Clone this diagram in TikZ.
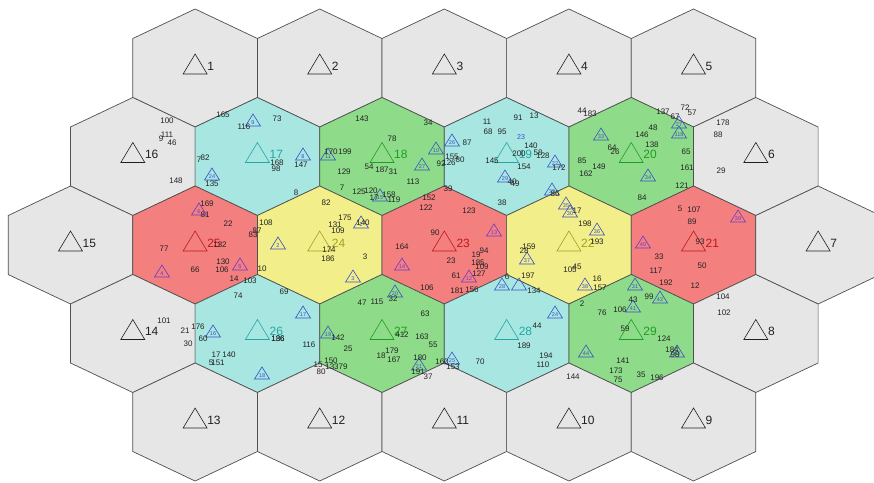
\documentclass[tikz,border=0pt]{standalone}
\usepackage{fontspec}
\setmainfont{Liberation Sans}
\usetikzlibrary{calc}
\definecolor{hgray}{HTML}{E6E6E6}
\definecolor{hcyan}{HTML}{A8E6E1}
\definecolor{hgreen}{HTML}{8EDC8A}
\definecolor{hred}{HTML}{F47F7F}
\definecolor{hyellow}{HTML}{F2EE8A}
\definecolor{hexline}{HTML}{505050}
\definecolor{tblack}{HTML}{202020}
\definecolor{tteal}{HTML}{20A8A4}
\definecolor{tgreen}{HTML}{1E9E1E}
\definecolor{tred}{HTML}{C01818}
\definecolor{tolive}{HTML}{A4A020}
\definecolor{ntext}{HTML}{222222}
\definecolor{bsta}{HTML}{3A50C8}
\definecolor{psta}{HTML}{6A3AC8}
\tikzset{
  hexcell/.style={draw=hexline, line width=0.7pt, line join=miter},
  bigtri/.style={line width=0.6pt},
  biglab/.style={font=\fontsize{12}{12}\selectfont, anchor=west, inner sep=0pt},
  sn/.style={font=\fontsize{8}{8}\selectfont, text=ntext, inner sep=0pt},
  stri/.style={line width=0.6pt},
  stl/.style={font=\fontsize{5.5}{5.5}\selectfont, inner sep=0pt},
}
\newcommand{\hexc}[4]{%
  \coordinate (#1) at (#2,#3);
  \draw[hexcell, fill=#4] (#1) ++(0,-59) -- ++(62.3,29.5) -- ++(0,59) -- ++(-62.3,29.5) -- ++(-62.3,-29.5) -- ++(0,-59) -- cycle;
}
\newcommand{\hexmark}[3]{%
  \draw[bigtri, draw=#2] (#1) ++(0,-14) -- ++(12,20) -- ++(-24,0) -- cycle;
  \node[biglab, text=#2] (#1l) at ($(#1)+(12,-2)$) {#3};
}
\begin{document}
\begin{tikzpicture}[x=1pt,y=-1pt]
\useasboundingbox (0,0) rectangle (874,482);
\fill[white] (0,0) rectangle (874,482);
\clip (0,0) rectangle (874,482);
% row 0
\hexc{h1}{195.1}{68}{hgray}
\hexc{h2}{319.7}{68}{hgray}
\hexc{h3}{444.3}{68}{hgray}
\hexc{h4}{568.9}{68}{hgray}
\hexc{h5}{693.5}{68}{hgray}
% row 1
\hexc{h16}{132.8}{156.5}{hgray}
\hexc{h17}{257.4}{156.5}{hcyan}
\hexc{h18}{382.0}{156.5}{hgreen}
\hexc{h19}{506.6}{156.5}{hcyan}
\hexc{h20}{631.2}{156.5}{hgreen}
\hexc{h6}{755.8}{156.5}{hgray}
% row 2
\hexc{h15}{70.5}{245}{hgray}
\hexc{h25}{195.1}{245}{hred}
\hexc{h24}{319.7}{245}{hyellow}
\hexc{h23}{444.3}{245}{hred}
\hexc{h22}{568.9}{245}{hyellow}
\hexc{h21}{693.5}{245}{hred}
\hexc{h7}{818.1}{245}{hgray}
% row 3
\hexc{h14}{132.8}{333.5}{hgray}
\hexc{h26}{257.4}{333.5}{hcyan}
\hexc{h27}{382.0}{333.5}{hgreen}
\hexc{h28}{506.6}{333.5}{hcyan}
\hexc{h29}{631.2}{333.5}{hgreen}
\hexc{h8}{755.8}{333.5}{hgray}
% row 4
\hexc{h13}{195.1}{422}{hgray}
\hexc{h12}{319.7}{422}{hgray}
\hexc{h11}{444.3}{422}{hgray}
\hexc{h10}{568.9}{422}{hgray}
\hexc{h9}{693.5}{422}{hgray}
% big markers
\foreach \n in {1,2,3,4,5,6,7,8,9,10,11,12,13,14,15,16} {\hexmark{h\n}{tblack}{\n}}
\foreach \n in {17,19,26,28} {\hexmark{h\n}{tteal}{\n}}
\foreach \n in {18,20,27,29} {\hexmark{h\n}{tgreen}{\n}}
\foreach \n in {21,23,25} {\hexmark{h\n}{tred}{\n}}
\foreach \n in {22,24} {\hexmark{h\n}{tolive}{\n}}
% small blue stations
\foreach \x/\y/\t [count=\i] in {253/121/9, 212/175/24, 303/155/8, 328/155/11, 436/149/10,
  422/165/27, 452/141/26, 380/196/15, 505/177/29, 555/162/22, 552/190/32, 566/204/35,
  570/212/30, 601/135/33, 648/176/34, 679/123/27, 679/133/118, 278/244/2, 361/223/1,
  353/277/3, 527/259/37, 597/230/36, 585/285/38, 502/285/28, 519/285/{}, 635/285/31,
  633/307/41, 660/298/42, 586/352/44, 213/332/16, 303/313/17, 262/374/18, 328/333/19,
  395/292/20, 419/365/21, 452/359/25, 555/313/24, 677/352/43} {
  \draw[stri, draw=bsta] (\x,\y) ++(0,-7) -- ++(7.5,12) -- ++(-15,0) -- cycle;
  \node[stl, text=bsta] (s\i) at (\x,\y+1.5) {\t};
}
\foreach \x/\y/\t [count=\i] in {199/210/6, 162/272/4, 240/265/5, 402/265/14, 494/231/13,
  469/277/12, 738/217/39, 643/243/40} {
  \draw[stri, draw=psta] (\x,\y) ++(0,-7) -- ++(7.5,12) -- ++(-15,0) -- cycle;
  \node[stl, text=psta] (p\i) at (\x,\y+1.5) {\t};
}
\node[stl, text=bsta, font=\fontsize{7}{7}\selectfont] (s23) at (521,137) {23};
% small numbers
\foreach \x/\y/\t [count=\i] in {
  167/121/100, 167/135/111, 161/139/9, 172/143/46, 176/181/148,
  223/115/165, 244/127/116, 277/119/73, 277/163/168, 276/169/98, 199/160/7, 205/158/82,
  212/184/135, 296/193/8,
  362/119/143, 428/123/34, 392/139/78, 331/152/170, 345/152/199, 301/165/147, 344/172/129,
  369/167/54, 382/170/187, 393/172/31, 413/182/113, 342/188/7, 359/192/125, 371/191/120,
  374/198/17, 389/195/158, 394/200/119, 441/164/92, 452/157/155, 449/163/126, 460/160/80,
  467/143/87, 448/189/39,
  487/122/11, 488/132/68, 502/132/95, 518/118/91, 534/116/13, 531/146/140, 538/153/58,
  543/156/128, 519/154/200, 492/161/145, 524/167/154, 512/182/40, 515/184/49, 559/168/172,
  555/194/86, 502/203/38,
  582/111/44, 590/114/183, 663/112/137, 685/108/72, 692/113/57, 675/117/67, 642/135/146,
  653/128/48, 652/145/138, 612/148/64, 615/152/26, 686/152/65, 582/161/85, 599/167/149,
  586/174/162, 687/168/161, 682/186/121, 642/198/84,
  723/123/178, 718/135/88, 721/171/29,
  207/204/169, 205/215/81, 228/224/22, 220/245/132, 164/249/77, 195/270/66, 223/262/130,
  222/270/106, 234/279/14, 250/281/103,
  266/223/108, 257/231/87, 253/235/83, 262/269/10, 326/203/82, 345/218/175, 335/225/131,
  338/231/109, 329/250/174, 328/259/186, 365/257/3, 363/223/140,
  429/198/152, 426/208/122, 469/211/123, 435/233/90, 402/247/164, 451/261/23, 476/255/19,
  484/251/94, 478/263/185, 482/267/109, 479/274/127, 456/276/61, 427/288/106, 457/291/181,
  472/290/156,
  529/247/159, 524/251/28, 528/276/197, 534/291/134, 507/277/6, 577/211/17, 585/224/198,
  597/242/193, 570/270/105, 577/267/45, 597/279/16, 600/288/157, 582/304/2,
  680/209/5, 694/210/107, 692/222/89, 700/242/93, 659/257/33, 702/266/50, 656/271/117,
  666/283/192, 695/286/12,
  723/297/104, 724/313/102,
  238/296/74, 284/292/69, 203/339/60, 188/344/30, 185/331/21, 198/327/176, 164/321/101,
  278/339/186, 278/339/136, 216/355/17, 229/355/140, 211/363/5, 218/363/151, 309/345/116,
  338/338/142, 348/349/25, 331/361/150, 332/367/133, 343/367/79, 318/365/15, 321/372/80,
  402/335/412, 422/337/163, 433/345/55, 392/351/179, 381/356/18, 394/360/167, 420/358/180,
  418/372/191, 428/377/37, 442/362/160, 362/303/47, 377/302/115, 393/299/32, 425/314/63,
  453/367/153,
  480/362/70, 537/326/44, 524/346/189, 546/356/194, 543/365/110, 573/377/144,
  633/300/43, 649/297/99, 620/310/106, 602/313/76, 625/329/59, 664/339/124, 623/361/141,
  616/371/173, 618/380/75, 641/375/35, 657/378/196, 672/350/184, 675/355/98} {
  \node[sn] (n\i) at (\x,\y) {\t};
}
\end{tikzpicture}
\end{document}
